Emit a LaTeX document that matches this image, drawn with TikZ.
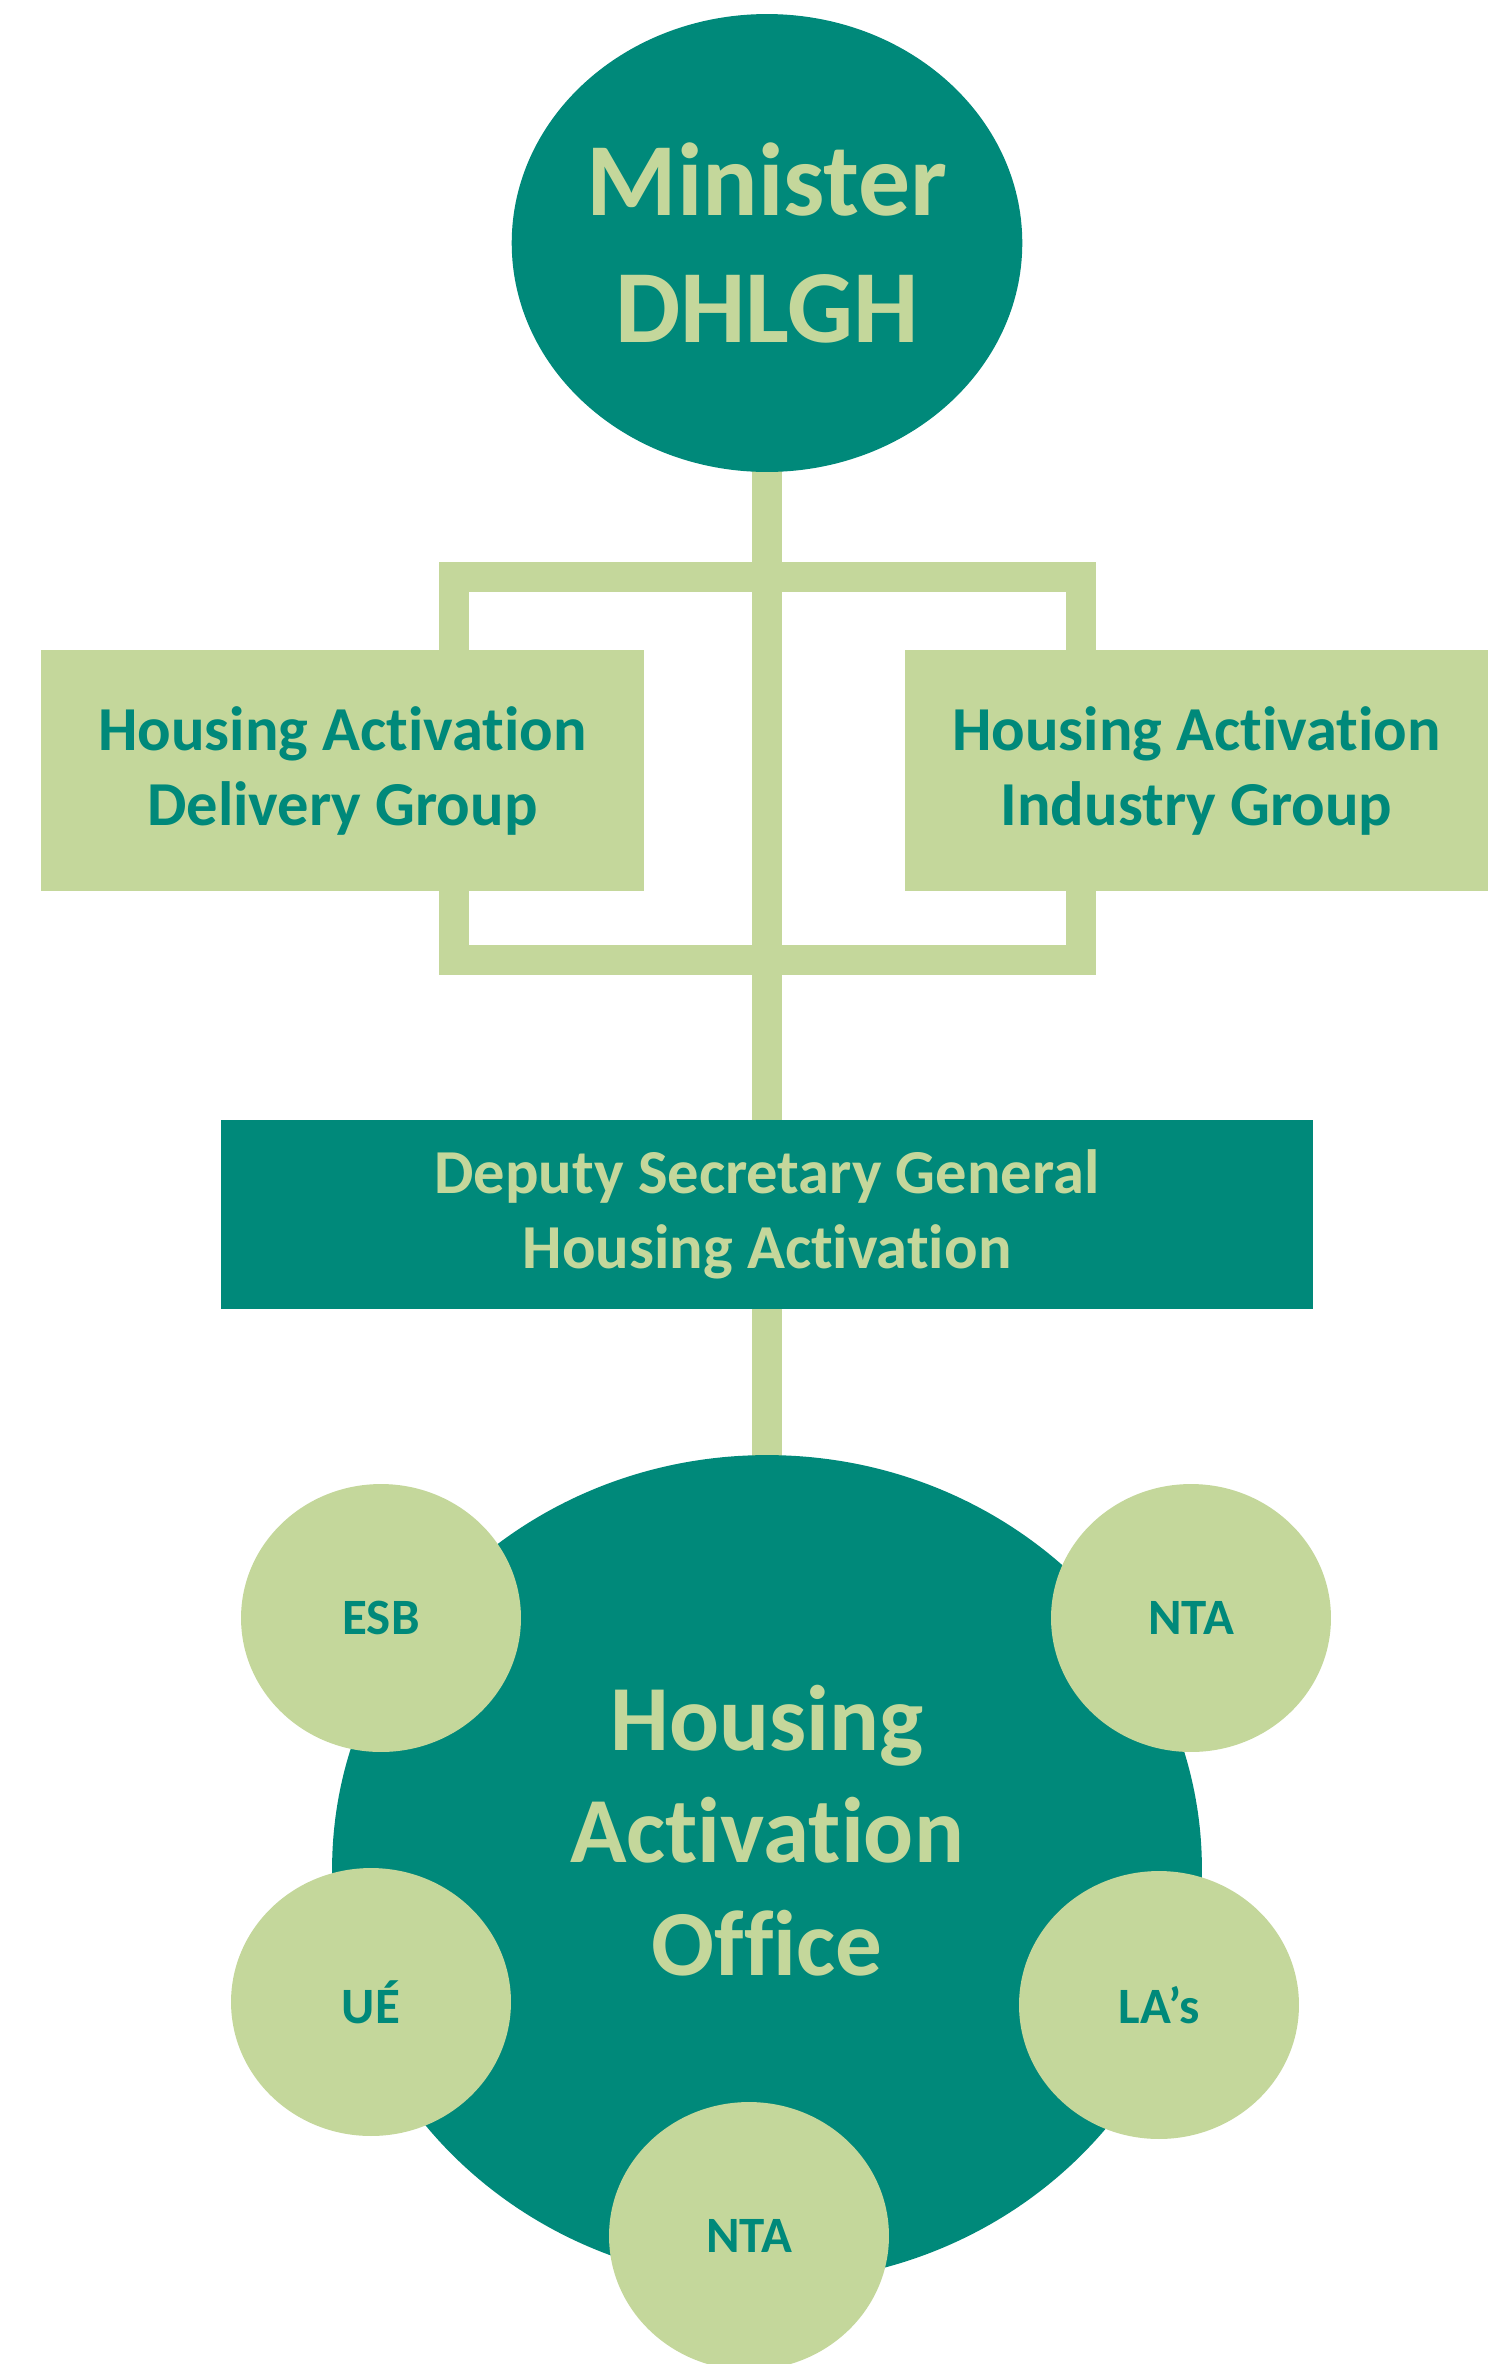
\documentclass[tikz,border=0pt]{standalone}
\usepackage{fontspec}
\setmainfont{Carlito}[Ligatures=NoCommon]
\usetikzlibrary{shapes.geometric}
\usetikzlibrary{positioning}
\usetikzlibrary{backgrounds}
\definecolor{hateal}{RGB}{0,137,122}
\definecolor{hagreen}{RGB}{196,215,155}

\begin{document}
\begin{tikzpicture}[x=0.02cm, y=-0.02cm,
    disc/.style = {ellipse, fill=hateal, text=hagreen, align=center, inner sep=0pt},
    member/.style = {ellipse, fill=hagreen, text=hateal, inner sep=0pt,
      minimum width=5.6cm, minimum height=5.36cm, font=\bfseries\fontsize{29}{35}\selectfont},
    groupbox/.style = {rectangle, fill=hagreen, text=hateal, align=center, inner sep=0pt,
      minimum height=4.82cm, font=\bfseries\fontsize{35.6}{42.7}\selectfont},
    leadbox/.style = {rectangle, fill=hateal, text=hagreen, align=center, inner sep=0pt,
      minimum width=21.84cm, minimum height=3.78cm, font=\bfseries\fontsize{35.6}{42.7}\selectfont},
    link/.style = {draw=hagreen, line width=0.6cm}]
  \useasboundingbox (0,0) rectangle (1488,2364);

  % top of the chart
  \node[disc, minimum width=10.02cm, minimum height=9.16cm,
        font=\bfseries\fontsize{59}{72.6}\selectfont] (min) at (767,243) {Minister\\DHLGH};

  % the two groups beside the line
  \node[groupbox, minimum width=12.06cm] (hadg) at (342.5,770.5) {Housing Activation\\Delivery Group};
  \node[groupbox, minimum width=11.66cm] (haig) at (1196.5,770.5) {Housing Activation\\Industry Group};

  \node[leadbox] (dsg) at (767,1214.5) {Deputy Secretary General\\Housing Activation};

  % the office and its partners
  \node[disc, minimum width=17.4cm, minimum height=16.56cm] (hao) at (767,1869) {};
  \node[disc, fill=none, font=\bfseries\fontsize{53}{64}\selectfont]
        (haotxt) at ([yshift=22pt]hao.center) {Housing\\Activation\\Office};

  \node[member] (esb) at (381,1618) {ESB};
  \node[member] (nta1) at (1191,1618) {NTA};
  \node[member] (ue) at (371,2002) {UÉ};
  \node[member] (las) at (1159,2005) {LA’s};
  \node[member] (nta2) at (749,2236) {NTA};

  \begin{scope}[on background layer]
    \coordinate (bnw) at (454,577);
    \coordinate (bse) at (1081,960);
    \draw[link] (bnw) rectangle (bse);
    \draw[link] (min.center) -- (dsg.center);
    \draw[link] (dsg.center) -- (hao.center);
  \end{scope}
\end{tikzpicture}
\end{document}
